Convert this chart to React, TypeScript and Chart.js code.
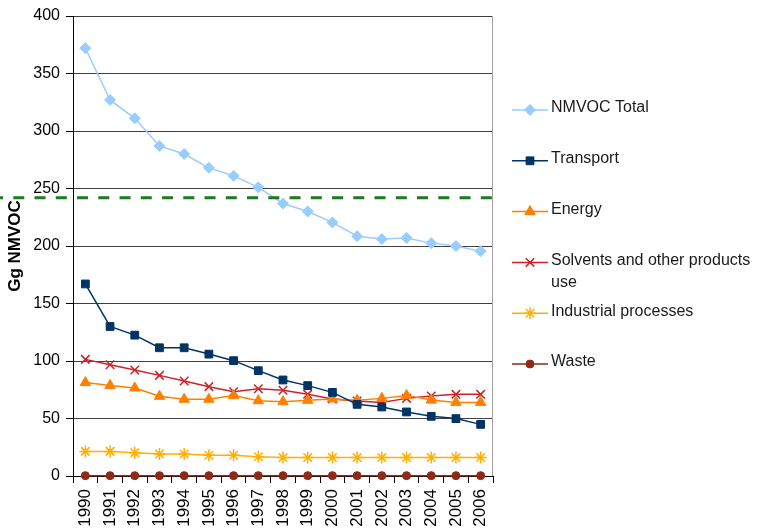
import React, { useEffect, useRef } from 'react';
import { Chart, registerables } from 'chart.js';
import { drawPoint } from 'chart.js/helpers';

Chart.register(...registerables);

const years = ['1990', '1991', '1992', '1993', '1994', '1995', '1996', '1997', '1998', '1999', '2000', '2001', '2002', '2003', '2004', '2005', '2006'];
const nmvocTotal = [372, 327, 311, 287, 280, 268, 261, 251, 237, 230, 220.5, 208.5, 206, 207, 202.5, 200, 195.5];
const transport = [167, 130, 122.5, 111.5, 111.5, 106, 100.3, 91.6, 83.5, 78.6, 72.7, 62.3, 60, 55.7, 51.9, 49.9, 44.9];
const energy = [81.2, 78.8, 76.5, 69.3, 66.7, 66.7, 69.9, 65.5, 64.6, 65.8, 67, 65.8, 67.5, 70.1, 66, 64, 64];
const solvents = [101.4, 96.8, 92.2, 87.5, 82.6, 77.7, 73.3, 75.9, 74.5, 71, 67, 65.2, 64, 67.5, 69.6, 71, 71];
const industrial = [21.4, 21.4, 20.3, 19.1, 19.1, 18, 18, 16.8, 16, 16, 16, 16, 16, 16, 16, 16, 16];
const waste = [0.3, 0.3, 0.3, 0.3, 0.3, 0.3, 0.3, 0.3, 0.3, 0.3, 0.3, 0.3, 0.3, 0.3, 0.3, 0.3, 0.3];
const referenceLevel = 242;
const yMin = 0;
const yMax = 400;
const yStep = 50;
const yTitle = 'Gg NMVOC';

const FONT = "'Liberation Sans', Arial, sans-serif";

function wrapText(ctx: CanvasRenderingContext2D, text: string, maxWidth: number): string[] {
  const words = text.split(' ');
  const lines: string[] = [];
  let cur = '';
  for (const w of words) {
    const test = cur ? cur + ' ' + w : w;
    if (ctx.measureText(test).width > maxWidth && cur) {
      lines.push(cur);
      cur = w;
    } else {
      cur = test;
    }
  }
  if (cur) lines.push(cur);
  return lines;
}

const legendPlugin = {
  id: 'customLegend',
  afterDraw(chart: any) {
    const ctx: CanvasRenderingContext2D = chart.ctx;
    const x0 = 512;
    const x1 = 548;
    const textX = 551;
    const top = 110;
    const step = 50.8;
    ctx.save();
    ctx.font = `16px ${FONT}`;
    chart.data.datasets.forEach((ds: any, i: number) => {
      const y = top + i * step;
      ctx.setLineDash([]);
      ctx.strokeStyle = ds.borderColor;
      ctx.lineWidth = ds.borderWidth;
      ctx.beginPath();
      ctx.moveTo(x0, y);
      ctx.lineTo(x1, y);
      ctx.stroke();
      ctx.fillStyle = ds.pointBackgroundColor;
      ctx.strokeStyle = ds.pointBorderColor;
      ctx.lineWidth = ds.pointBorderWidth;
      drawPoint(ctx, { pointStyle: ds.pointStyle, radius: ds.pointRadius, rotation: 0, borderWidth: ds.pointBorderWidth } as any, (x0 + x1) / 2, y);
      ctx.fillStyle = '#1a1a1a';
      ctx.textBaseline = 'middle';
      ctx.textAlign = 'left';
      const lines = wrapText(ctx, ds.label, chart.width - textX - 2);
      lines.forEach((ln, k) => ctx.fillText(ln, textX, y - 2 + k * 22));
    });
    ctx.restore();
  },
};

const refLinePlugin = {
  id: 'refLine',
  afterDraw(chart: any) {
    const ctx: CanvasRenderingContext2D = chart.ctx;
    const area = chart.chartArea;
    ctx.save();
    // right border of plot
    ctx.strokeStyle = '#a0a0a0';
    ctx.lineWidth = 1;
    ctx.beginPath();
    ctx.moveTo(Math.round(area.right) - 0.5, area.top);
    ctx.lineTo(Math.round(area.right) - 0.5, area.bottom);
    ctx.stroke();
    // dashed reference line
    const y = chart.scales.y.getPixelForValue(referenceLevel);
    ctx.strokeStyle = '#1f7a1f';
    ctx.lineWidth = 3;
    ctx.setLineDash([11, 10.25]);
    ctx.lineDashOffset = 7.95;
    ctx.beginPath();
    ctx.moveTo(0, y);
    ctx.lineTo(area.right, y);
    ctx.stroke();
    ctx.restore();
  },
};

function series(label: string, data: number[], color: string, pointStyle: string, radius: number, pbw: number) {
  return {
    label,
    data,
    borderColor: color,
    backgroundColor: color,
    borderWidth: 1.5,
    pointStyle,
    pointRadius: radius,
    pointHoverRadius: radius,
    pointBackgroundColor: color,
    pointBorderColor: color,
    pointBorderWidth: pbw,
    tension: 0,
    fill: false,
    clip: false,
  };
}

export default function App() {
  const ref = useRef<HTMLCanvasElement | null>(null);
  useEffect(() => {
    if (!ref.current) return;
    Chart.defaults.font.family = FONT;
    const chart = new Chart(ref.current, {
      type: 'line',
      data: {
        labels: years,
        datasets: [
          series('NMVOC Total', nmvocTotal, '#99ccff', 'rectRot', 5.5, 1),
          series('Transport', transport, '#003366', 'rect', 5.5, 1),
          series('Energy', energy, '#ff8000', 'triangle', 6, 1),
          series('Solvents and other products use', solvents, '#cc2229', 'crossRot', 6, 1.5),
          series('Industrial processes', industrial, '#ffb000', 'star', 6, 1.5),
          series('Waste', waste, '#8e2a16', 'circle', 4, 1),
        ] as any,
      },
      options: {
        animation: false,
        responsive: false,
        devicePixelRatio: 1,
        layout: { padding: { top: 16, right: 266, left: 0, bottom: 0 } },
        plugins: { legend: { display: false }, tooltip: { enabled: false } },
        scales: {
          x: {
            type: 'category',
            offset: true,
            grid: { display: true, drawOnChartArea: false, drawTicks: true, tickLength: 7, color: '#000', offset: true },
            border: { display: true, color: '#000', width: 1 },
            ticks: { minRotation: 90, maxRotation: 90, autoSkip: false, font: { size: 17, family: FONT }, color: '#000', padding: 6 },
            afterFit: (s: any) => { s.height = 54; },
          },
          y: {
            min: yMin,
            max: yMax,
            ticks: { stepSize: yStep, font: { size: 16, family: FONT }, color: '#000', padding: 6 },
            grid: { color: '#404040', tickLength: 7, tickColor: '#000', lineWidth: 1 },
            border: { display: true, color: '#000', width: 1 },
            title: { display: true, text: yTitle, font: { size: 17, weight: 'bold', family: FONT }, color: '#000', padding: { top: 5, bottom: 0 } },
            afterFit: (s: any) => { s.width = 73; },
          },
        },
      } as any,
      plugins: [refLinePlugin, legendPlugin],
    });
    return () => chart.destroy();
  }, []);
  return (
    <div style={{ position: 'absolute', left: 0, top: 0, width: 759, height: 530 }}>
      <canvas ref={ref} width={759} height={530} style={{ display: 'block', width: 759, height: 530 }} />
    </div>
  );
}
